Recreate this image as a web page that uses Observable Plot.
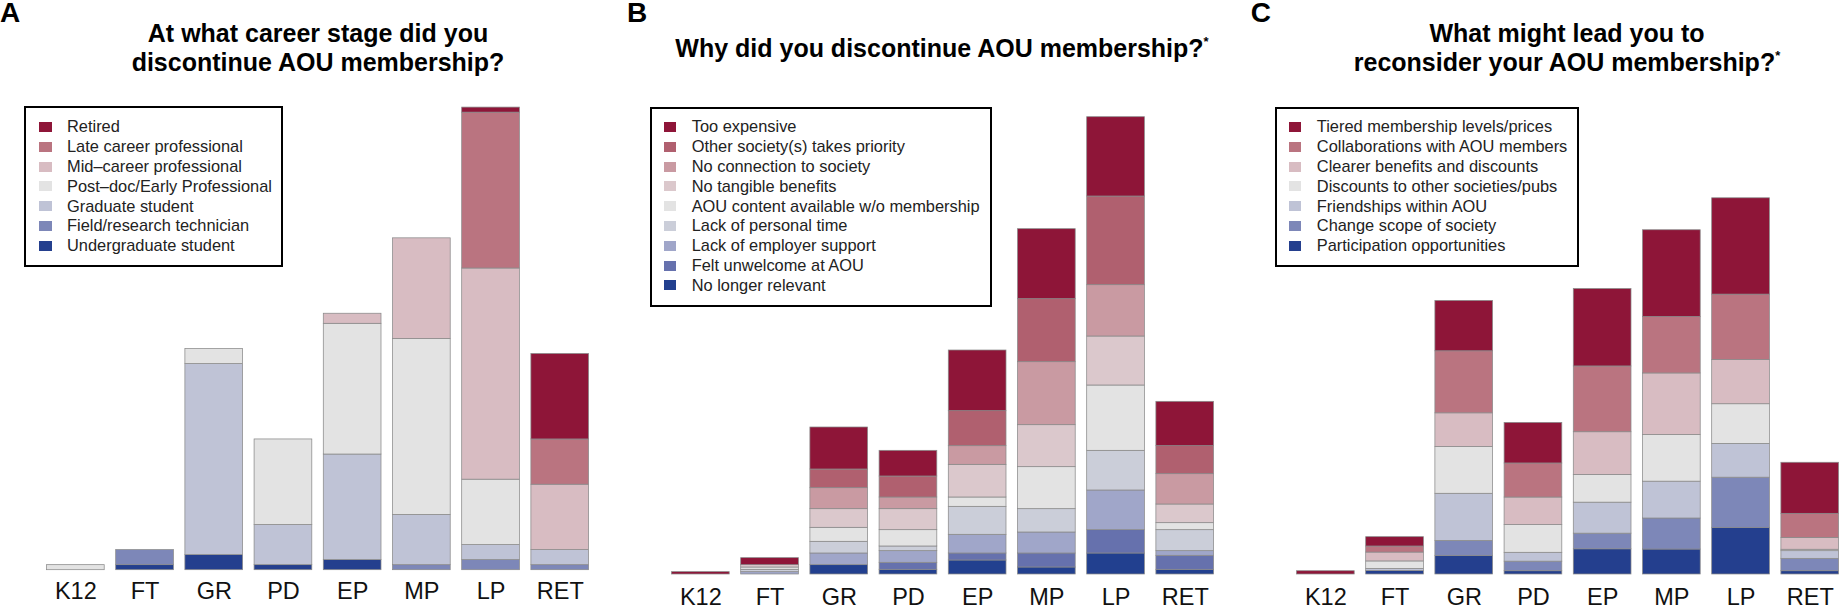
<!DOCTYPE html>
<html>
<head>
<meta charset="utf-8">
<script src="https://cdn.jsdelivr.net/npm/d3@7"></script>
<script src="https://cdn.jsdelivr.net/npm/@observablehq/plot@0.6"></script>
<style>
  html, body { margin: 0; padding: 0; background: #fff; }
  body { width: 1839px; height: 607px; overflow: hidden; position: relative; font-family: "Liberation Sans", Arial, sans-serif; }
  .abs { position: absolute; }
  .letter { font-weight: bold; font-size: 28px; line-height: 32px; }
  .title { font-weight: bold; font-size: 25px; line-height: 29px; text-align: center; white-space: nowrap; color: #000; }
  .title sup { font-size: 13px; vertical-align: 0; position: relative; top: -11px; }
  .legend { border: 2.7px solid #000; box-sizing: border-box; background: #fff; }
  .row { position: absolute; left: 0; right: 0; height: 19.8px; line-height: 19.8px; font-size: 16.4px; color: #222; white-space: nowrap; }
  .sw { position: absolute; width: 12.5px; height: 10px; }
</style>
</head>
<body>
<script>
// ---------- data ----------
const stages = ["K12", "FT", "GR", "PD", "EP", "MP", "LP", "RET"];

// Panel A: career stage at which membership was discontinued (legend order, top to bottom)
const careerSeries = ["Retired", "Late career professional", "Mid–career professional",
  "Post–doc/Early Professional", "Graduate student", "Field/research technician", "Undergraduate student"];
const careerColors = ["#8e1538", "#ba7480", "#d8bcc2", "#e3e3e3", "#bfc3d6", "#7d87b8", "#243f8e"];
const careerRetired   = [0, 0, 0, 0, 0, 0, 1, 17];
const careerLate      = [0, 0, 0, 0, 0, 0, 31, 9];
const careerMid       = [0, 0, 0, 0, 2, 20, 42, 13];
const careerPostdoc   = [1, 0, 3, 17, 26, 35, 13, 0];
const careerGrad      = [0, 0, 38, 8, 21, 10, 3, 3];
const careerField     = [0, 3, 0, 0, 0, 1, 2, 1];
const careerUndergrad = [0, 1, 3, 1, 2, 0, 0, 0];

// Panel B: why discontinued
const whySeries = ["Too expensive", "Other society(s) takes priority", "No connection to society",
  "No tangible benefits", "AOU content available w/o membership", "Lack of personal time",
  "Lack of employer support", "Felt unwelcome at AOU", "No longer relevant"];
const whyColors = ["#8e1538", "#b0606f", "#c99aa2", "#dbc8cc", "#e3e3e3", "#cbced9", "#a0a6c9", "#6671ad", "#22408f"];
const whyExpensive   = [1, 3, 18, 11, 26, 30, 34, 19];
const whyOther       = [0, 0, 8, 9, 15, 27, 38, 12];
const whyConnection  = [0, 0, 9, 5, 8, 27, 22, 13];
const whyTangible    = [0, 1, 8, 9, 14, 18, 21, 8];
const whyContent     = [0, 1, 6, 7, 4, 18, 28, 3];
const whyTime        = [0, 1, 5, 2, 12, 10, 17, 9];
const whyEmployer    = [0, 1, 5, 5, 8, 9, 17, 2];
const whyUnwelcome   = [0, 0, 0, 3, 3, 6, 10, 6];
const whyIrrelevant  = [0, 0, 4, 2, 6, 3, 9, 2];

// Panel C: what might lead to reconsider
const reSeries = ["Tiered membership levels/prices", "Collaborations with AOU members",
  "Clearer benefits and discounts", "Discounts to other societies/pubs", "Friendships within AOU",
  "Change scope of society", "Participation opportunities"];
const reColors = careerColors;
const reTiered        = [1.4, 4, 21.6, 17.4, 33.2, 37.2, 41.3, 21.9];
const reCollab        = [0, 2.6, 26.6, 14.6, 28.2, 24.2, 28, 10.3];
const reClearer       = [0, 3.8, 14.4, 11.8, 18.3, 26.4, 19, 5.1];
const reDiscounts     = [0, 3.2, 20.1, 11.9, 11.9, 20, 17, 0.6];
const reFriendships   = [0, 0.9, 20.2, 3.8, 13.3, 15.8, 14.5, 3.3];
const reScope         = [0, 0, 6.4, 4.1, 6.7, 13.3, 21.5, 5.3];
const reParticipation = [0, 1.5, 8, 1.4, 10.8, 10.7, 20, 1.4];

// ---------- build ----------
function rowsFrom(series, arrays) {
  // arrays are in legend order (top first); stack bottom-up => reverse
  const rows = [];
  for (let s = series.length - 1; s >= 0; s--) {
    stages.forEach((st, i) => rows.push({stage: st, series: series[s], value: arrays[s][i]}));
  }
  return rows;
}

const panels = [
  {letter: "A", letterX: 0, title: ["At what career stage did you", "discontinue AOU membership?"], titleCX: 318, titleTop: 18.5,
   series: careerSeries, colors: careerColors,
   arrays: [careerRetired, careerLate, careerMid, careerPostdoc, careerGrad, careerField, careerUndergrad],
   x0: 35.2, base: 569.7, top: 107.1, tickPad: 12.6,
   legend: {left: 24, top: 106, right: 282.7, bottom: 266.7, sw: 16, tx: 43.7, r0: 12.1}},
  {letter: "B", letterX: 627, title: ["Why did you discontinue AOU membership?*"], titleCX: 942, titleTop: 34.1,
   series: whySeries, colors: whyColors,
   arrays: [whyExpensive, whyOther, whyConnection, whyTangible, whyContent, whyTime, whyEmployer, whyUnwelcome, whyIrrelevant],
   x0: 660.2, base: 574, top: 116.7, tickPad: 14.3,
   legend: {left: 649.7, top: 107.2, right: 991.7, bottom: 306.6, sw: 15, tx: 42.7, r0: 11}},
  {letter: "C", letterX: 1250.7, title: ["What might lead you to", "reconsider your AOU membership?*"], titleCX: 1567, titleTop: 18.5,
   series: reSeries, colors: reColors,
   arrays: [reTiered, reCollab, reClearer, reDiscounts, reFriendships, reScope, reParticipation],
   x0: 1285.2, base: 574, top: 197.8, tickPad: 13.7,
   legend: {left: 1274.8, top: 107.2, right: 1579.2, bottom: 267.1, sw: 14.9, tx: 42.7, r0: 11}}
];

const H = 607, rangeW = 565.1, pad = 10;

panels.forEach(p => {
  const rows = rowsFrom(p.series, p.arrays);
  const totals = stages.map((st, i) => d3.sum(p.arrays, a => a[i]));
  const ymax = d3.max(totals);
  const chart = Plot.plot({
    width: rangeW + 2 * pad,
    height: H,
    marginLeft: pad, marginRight: pad,
    marginTop: p.top, marginBottom: H - p.base,
    style: {fontFamily: "'Liberation Sans', Arial, sans-serif", background: "transparent", overflow: "visible"},
    x: {domain: stages, padding: 0.166, round: false, axis: null},
    y: {domain: [0, ymax], axis: null},
    color: {domain: p.series, range: p.colors},
    marks: [
      Plot.barY(rows, {x: "stage", y: "value", fill: "series", stroke: "#8a8a8a", strokeWidth: 0.75}),
      Plot.axisX({tickSize: 0, tickPadding: p.tickPad, fontSize: 23.5, label: null, fill: "#111"})
    ]
  });
  chart.style.position = "absolute";
  chart.style.left = (p.x0 - pad) + "px";
  chart.style.top = "0px";
  document.body.appendChild(chart);

  // panel letter
  const L = document.createElement("div");
  L.className = "abs letter";
  L.style.left = p.letterX + "px"; L.style.top = "-3px";
  L.textContent = p.letter;
  document.body.appendChild(L);

  // title
  const T = document.createElement("div");
  T.className = "abs title";
  T.style.left = (p.titleCX - 300) + "px"; T.style.width = "600px"; T.style.top = p.titleTop + "px";
  p.title.forEach(line => {
    const d = document.createElement("div");
    if (line.endsWith("*")) {
      d.append(line.slice(0, -1));
      const s = document.createElement("sup"); s.textContent = "*"; d.appendChild(s);
    } else d.textContent = line;
    T.appendChild(d);
  });
  document.body.appendChild(T);

  // legend
  const g = p.legend;
  const box = document.createElement("div");
  box.className = "abs legend";
  box.style.left = g.left + "px"; box.style.top = g.top + "px";
  box.style.width = (g.right - g.left) + "px"; box.style.height = (g.bottom - g.top) + "px";
  p.series.forEach((s, i) => {
    const r = document.createElement("div");
    r.className = "row";
    r.style.top = (g.r0 - 2.7 + i * 19.8) + "px";
    const sw = document.createElement("div");
    sw.className = "sw";
    sw.style.left = (g.sw - 2.7) + "px"; sw.style.top = "4.6px"; sw.style.background = p.colors[i];
    const t = document.createElement("span");
    t.style.position = "absolute"; t.style.left = (g.tx - 2.7) + "px";
    t.textContent = s;
    r.appendChild(sw); r.appendChild(t);
    box.appendChild(r);
  });
  document.body.appendChild(box);
});
</script>
</body>
</html>
